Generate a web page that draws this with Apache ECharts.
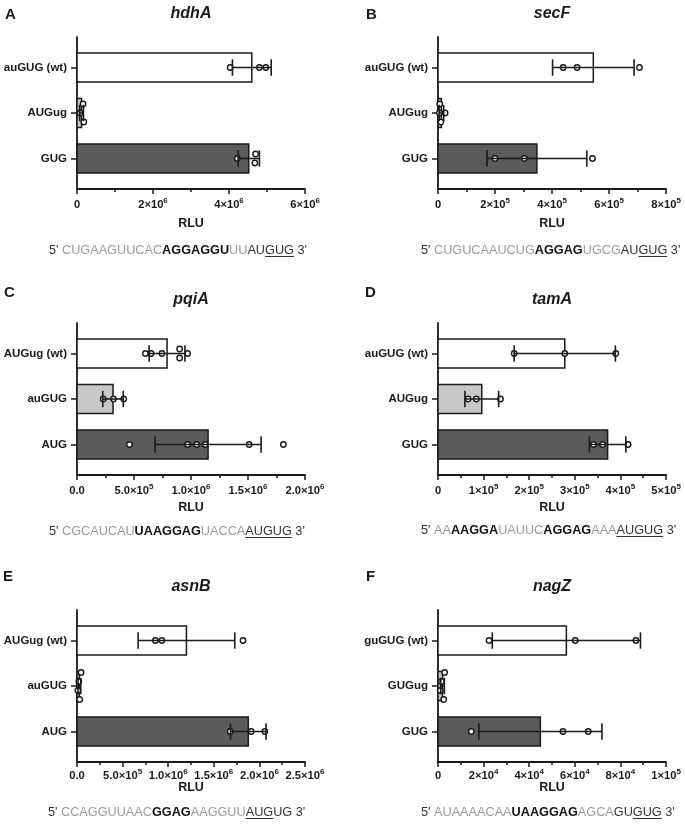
<!DOCTYPE html>
<html><head><meta charset="utf-8">
<script src="https://cdn.jsdelivr.net/npm/echarts@6/dist/echarts.min.js"></script>
<style>html,body{margin:0;padding:0;background:#fff}#c{width:685px;height:829px}</style>
</head><body><div id="c"></div>
<script>
const FONT = '"Liberation Sans", Arial, Helvetica, sans-serif';

// ---------- Panel A : hdhA ----------
const titleA = 'hdhA';
const catsA = ['auGUG (wt)', 'AUGug', 'GUG'];
const meanA = [4.60e6, 0.12e6, 4.52e6];
const sdA = [0.51e6, 0.05e6, 0.28e6];
const pointsA = [[4.03e6, 4.80e6, 4.97e6], [0.16e6, 0.18e6, 0.08e6], [4.22e6, 4.68e6, 4.70e6]];
const maxA = 6e6, stepA = 2e6;
const ticksA = ['0', '2×10^6', '4×10^6', '6×10^6'];
const seqA = [["5' ", 'k'], ['CUGAAGUUCAC', 'g'], ['AGGAGGU', 'b'], ['UU', 'g'], ['AU', 'k'], ['GUG', 'u'], [" 3'", 'k']];

// ---------- Panel B : secF ----------
const titleB = 'secF';
const catsB = ['auGUG (wt)', 'AUGug', 'GUG'];
const meanB = [5.45e5, 0.12e5, 3.47e5];
const sdB = [1.43e5, 0.08e5, 1.75e5];
const pointsB = [[4.39e5, 4.88e5, 7.07e5], [0.06e5, 0.10e5, 0.25e5, 0.05e5], [2.00e5, 3.03e5, 5.42e5]];
const maxB = 8e5, stepB = 2e5;
const ticksB = ['0', '2×10^5', '4×10^5', '6×10^5', '8×10^5'];
const seqB = [["5' ", 'k'], ['CUGUCAAUCUG', 'g'], ['AGGAG', 'b'], ['UGCG', 'g'], ['AU', 'k'], ['GUG', 'u'], [" 3'", 'k']];

// ---------- Panel C : pqiA ----------
const titleC = 'pqiA';
const catsC = ['AUGug (wt)', 'auGUG', 'AUG'];
const meanC = [0.79e6, 0.316e6, 1.15e6];
const sdC = [0.157e6, 0.09e6, 0.465e6];
const pointsC = [[0.60e6, 0.65e6, 0.745e6, 0.90e6, 0.90e6, 0.97e6], [0.23e6, 0.32e6, 0.41e6], [0.46e6, 0.97e6, 1.05e6, 1.125e6, 1.51e6, 1.81e6]];
const maxC = 2e6, stepC = 0.5e6;
const ticksC = ['0.0', '5.0×10^5', '1.0×10^6', '1.5×10^6', '2.0×10^6'];
const seqC = [["5' ", 'k'], ['CGCAUCAU', 'g'], ['UAAGGAG', 'b'], ['UACCA', 'g'], ['AUGUG', 'u'], [" 3'", 'k']];

// ---------- Panel D : tamA ----------
const titleD = 'tamA';
const catsD = ['auGUG (wt)', 'AUGug', 'GUG'];
const meanD = [2.78e5, 0.96e5, 3.72e5];
const sdD = [1.11e5, 0.37e5, 0.40e5];
const pointsD = [[1.67e5, 2.78e5, 3.90e5], [0.66e5, 0.84e5, 1.37e5], [3.41e5, 3.61e5, 4.17e5]];
const maxD = 5e5, stepD = 1e5;
const ticksD = ['0', '1×10^5', '2×10^5', '3×10^5', '4×10^5', '5×10^5'];
const seqD = [["5' ", 'k'], ['AA', 'g'], ['AAGGA', 'b'], ['UAUUC', 'g'], ['AGGAG', 'b'], ['AAA', 'g'], ['AUGUG', 'u'], [" 3'", 'k']];

// ---------- Panel E : asnB ----------
const titleE = 'asnB';
const catsE = ['AUGug (wt)', 'auGUG', 'AUG'];
const meanE = [1.20e6, 0.026e6, 1.878e6];
const sdE = [0.53e6, 0.015e6, 0.195e6];
const pointsE = [[0.86e6, 0.93e6, 1.82e6], [0.03e6, 0.045e6, 0.02e6, 0.01e6], [1.68e6, 1.91e6, 2.06e6]];
const maxE = 2.5e6, stepE = 0.5e6;
const ticksE = ['0.0', '5.0×10^5', '1.0×10^6', '1.5×10^6', '2.0×10^6', '2.5×10^6'];
const seqE = [["5' ", 'k'], ['CCAGGUUAAC', 'g'], ['GGAG', 'b'], ['AAGGUU', 'g'], ['AUG', 'u'], ['UG', 'k'], [" 3'", 'k']];

// ---------- Panel F : nagZ ----------
const titleF = 'nagZ';
const catsF = ['guGUG (wt)', 'GUGug', 'GUG'];
const meanF = [5.63e4, 0.2e4, 4.49e4];
const sdF = [3.25e4, 0.08e4, 2.70e4];
const pointsF = [[2.24e4, 6.02e4, 8.68e4], [0.25e4, 0.29e4, 0.15e4, 0.10e4], [1.46e4, 5.48e4, 6.59e4]];
const maxF = 1e5, stepF = 2e4;
const ticksF = ['0', '2×10^4', '4×10^4', '6×10^4', '8×10^4', '1×10^5'];
const seqF = [["5' ", 'k'], ['AUAAAACAA', 'g'], ['UAAGGAG', 'b'], ['AGCA', 'g'], ['GU', 'k'], ['GUG', 'u'], [" 3'", 'k']];

const panels = [
  {title: titleA, cats: catsA, mean: meanA, sd: sdA, pts: pointsA, max: maxA, step: stepA, ticks: ticksA, seq: seqA},
  {title: titleB, cats: catsB, mean: meanB, sd: sdB, pts: pointsB, max: maxB, step: stepB, ticks: ticksB, seq: seqB},
  {title: titleC, cats: catsC, mean: meanC, sd: sdC, pts: pointsC, max: maxC, step: stepC, ticks: ticksC, seq: seqC},
  {title: titleD, cats: catsD, mean: meanD, sd: sdD, pts: pointsD, max: maxD, step: stepD, ticks: ticksD, seq: seqD},
  {title: titleE, cats: catsE, mean: meanE, sd: sdE, pts: pointsE, max: maxE, step: stepE, ticks: ticksE, seq: seqE},
  {title: titleF, cats: catsF, mean: meanF, sd: sdF, pts: pointsF, max: maxF, step: stepF, ticks: ticksF, seq: seqF}
];

// layout (positions only)
const W = 228, H = 152;
const LAYOUT = [
  {left: 77,  top: 37,  letter: 'A', lx: 5,   ly: 15,  sx: 49,  sy: 250, lm: 8, ng: 28},
  {left: 438, top: 37,  letter: 'B', lx: 366, ly: 15,  sx: 421, sy: 250, lm: 8, ng: 28},
  {left: 77,  top: 323, letter: 'C', lx: 4,   ly: 293, sx: 49,  sy: 531, lm: 8, ng: 26},
  {left: 438, top: 323, letter: 'D', lx: 365, ly: 293, sx: 421, sy: 530, lm: 8, ng: 26},
  {left: 77,  top: 610, letter: 'E', lx: 3,   ly: 577, sx: 48,  sy: 812, lm: 6, ng: 19},
  {left: 438, top: 610, letter: 'F', lx: 366, ly: 577, sx: 421, sy: 812, lm: 6, ng: 19}
];
const INK = '#1a1a1a';
const BAR_COLORS = ['#ffffff', '#c8c8c8', '#5b5b5b'];

function fmtTick(s) {
  if (s === undefined) return '';
  if (s.indexOf('^') >= 0) { const q = s.split('^'); return '{m|' + q[0] + '}{s|' + q[1] + '}'; }
  return '{m|' + s + '}';
}
const RICH = {
  m: {fontFamily: FONT, fontWeight: 'bold', fontSize: 11.2, color: INK, lineHeight: 16},
  s: {fontFamily: FONT, fontWeight: 'bold', fontSize: 8, color: INK, padding: [0, 0, 8, 0]}
};

function swarm(xs, d, step) {
  const n = xs.length;
  const order = xs.map((x, i) => i).sort((a, b) => xs[a] - xs[b]);
  const off = new Array(n).fill(0);
  const placed = [];
  for (const i of order) {
    for (let k = 0; k < 50; k++) {
      const cand = k === 0 ? 0 : (k % 2 ? -Math.ceil(k / 2) * step : Math.ceil(k / 2) * step);
      const ok = placed.every(j => (xs[i] - xs[j]) ** 2 + (cand - off[j]) ** 2 >= d * d);
      if (ok) { off[i] = cand; placed.push(i); break; }
    }
  }
  let comp = [order[0]];
  const comps = [];
  for (let t = 1; t < order.length; t++) {
    if (xs[order[t]] - xs[order[t - 1]] < d) comp.push(order[t]);
    else { comps.push(comp); comp = [order[t]]; }
  }
  comps.push(comp);
  comps.forEach(c => {
    const vals = c.map(i => off[i]);
    const sh = -(Math.min(...vals) + Math.max(...vals)) / 2;
    c.forEach(i => off[i] += sh);
  });
  return off;
}

const grid = [], xAxis = [], yAxis = [], series = [], graphic = [];
const cvs = document.createElement('canvas').getContext('2d');
function measure(text, font) { cvs.font = font; return cvs.measureText(text).width; }

panels.forEach((p, i) => {
  const L = LAYOUT[i];
  grid.push({left: L.left, top: L.top, width: W, height: H, outerBoundsMode: 'none', containLabel: false});
  xAxis.push({
    gridIndex: i, type: 'value', min: 0, max: p.max, interval: p.step,
    axisLine: {show: true, onZero: false, lineStyle: {color: INK, width: 1.8}},
    axisTick: {show: true, length: 5, lineStyle: {color: INK, width: 1.5}},
    minorTick: {show: true, splitNumber: 2, length: 3, lineStyle: {color: INK, width: 1.5}},
    splitLine: {show: false}, minorSplitLine: {show: false},
    axisLabel: {margin: L.lm, fontFamily: FONT, fontWeight: 'bold', fontSize: 11.2, color: INK,
      formatter: v => fmtTick(p.ticks[Math.round(v / p.step)]), rich: RICH},
    name: 'RLU', nameLocation: 'middle', nameGap: L.ng, nameMoveOverlap: false,
    nameTextStyle: {fontFamily: FONT, fontWeight: 'bold', fontSize: 12.5, color: INK}
  });
  yAxis.push({
    gridIndex: i, type: 'value', inverse: true, min: -0.67, max: 2.67,
    axisLine: {show: true, onZero: false, lineStyle: {color: INK, width: 1.8}},
    axisTick: {show: true, length: 6, customValues: [0, 1, 2], lineStyle: {color: INK, width: 1.5}},
    axisLabel: {customValues: [0, 1, 2], margin: 10, formatter: v => p.cats[Math.round(v)] || '',
      fontFamily: FONT, fontWeight: 'bold', fontSize: 11.5, color: INK},
    splitLine: {show: false}
  });
  series.push({
    type: 'custom', xAxisIndex: i, yAxisIndex: i, z: 2,
    data: p.mean.map((m, c) => [m, c]),
    renderItem: (params, api) => {
      const c = api.value(1);
      const p0 = api.coord([0, c]);
      const p1 = api.coord([api.value(0), c]);
      const h = Math.abs(api.size([0, 0.64])[1]);
      return {type: 'rect', shape: {x: p0[0], y: p0[1] - h / 2, width: p1[0] - p0[0], height: h},
        style: {fill: BAR_COLORS[c], stroke: INK, lineWidth: 1.5}};
    }
  });
  const pdata = [];
  p.pts.forEach((arr, c) => arr.forEach((v, k) => pdata.push([v, c, k])));
  series.push({
    type: 'custom', xAxisIndex: i, yAxisIndex: i, z: 3,
    data: pdata,
    renderItem: (params, api) => {
      const c = api.value(1), k = api.value(2);
      const xs = p.pts[c].map(v => api.coord([v, c])[0]);
      const off = swarm(xs, 5, 9);
      const pt = api.coord([api.value(0), c]);
      return {type: 'circle', shape: {cx: pt[0], cy: pt[1] + off[k], r: 2.7},
        style: {fill: '#ffffff', stroke: INK, lineWidth: 1.4}};
    }
  });
  series.push({
    type: 'custom', xAxisIndex: i, yAxisIndex: i, z: 4,
    data: p.mean.map((m, c) => [m, c, p.sd[c]]),
    renderItem: (params, api) => {
      const m = api.value(0), c = api.value(1), s = api.value(2);
      const lo = api.coord([Math.max(0, m - s), c]);
      const hi = api.coord([m + s, c]);
      const cap = Math.abs(api.size([0, 0.18])[1]);
      const st = {stroke: INK, lineWidth: 1.6};
      return {type: 'group', children: [
        {type: 'line', shape: {x1: lo[0], y1: lo[1], x2: hi[0], y2: hi[1]}, style: st},
        {type: 'line', shape: {x1: lo[0], y1: lo[1] - cap, x2: lo[0], y2: lo[1] + cap}, style: st},
        {type: 'line', shape: {x1: hi[0], y1: hi[1] - cap, x2: hi[0], y2: hi[1] + cap}, style: st}
      ]};
    }
  });
  graphic.push({type: 'text', x: L.left + W / 2, y: L.top - 23,
    style: {text: p.title, fontFamily: FONT, fontWeight: 'bold', fontStyle: 'italic', fontSize: 16, fill: INK, align: 'center', verticalAlign: 'middle'}});
  graphic.push({type: 'text', x: L.lx, y: L.ly,
    style: {text: L.letter, fontFamily: FONT, fontWeight: 'bold', fontSize: 15, fill: INK, align: 'left', verticalAlign: 'middle'}});
  let x = L.sx;
  const fs = 12.7;
  p.seq.forEach(([txt, kind]) => {
    const bold = kind === 'b';
    const fill = kind === 'g' ? '#9a9a9a' : (kind === 'b' ? '#111111' : '#333333');
    const w = measure(txt, (bold ? 'bold ' : 'normal ') + fs + 'px ' + FONT);
    graphic.push({type: 'text', x: x, y: L.sy,
      style: {text: txt, fontFamily: FONT, fontWeight: bold ? 'bold' : 'normal', fontSize: fs, fill: fill, align: 'left', verticalAlign: 'middle'}});
    if (kind === 'u') {
      graphic.push({type: 'line', shape: {x1: x, y1: L.sy + 6.5, x2: x + w, y2: L.sy + 6.5}, style: {stroke: '#333333', lineWidth: 1}});
    }
    x += w;
  });
});

const chart = echarts.init(document.getElementById('c'), null, {renderer: 'canvas'});
chart.setOption({
  backgroundColor: '#ffffff', animation: false,
  grid, xAxis, yAxis, series, graphic
});
</script></body></html>
